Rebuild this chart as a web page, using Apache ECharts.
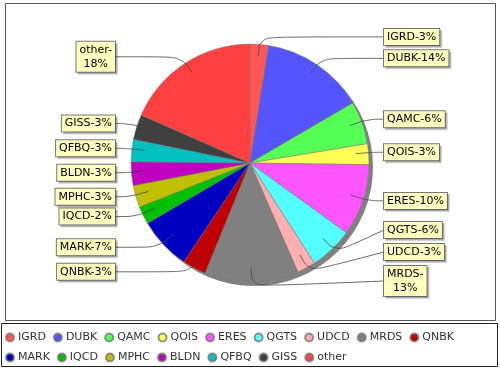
<!DOCTYPE html>
<html><head><meta charset="utf-8">
<script src="https://cdn.jsdelivr.net/npm/echarts@6/dist/echarts.min.js"></script>
<style>html,body{margin:0;padding:0;background:#fff}#c{width:500px;height:370px}</style>
</head><body><div id="c"></div>
<script>
const categories = ['IGRD','DUBK','QAMC','QOIS','ERES','QGTS','UDCD','MRDS','QNBK','MARK','IQCD','MPHC','BLDN','QFBQ','GISS','other'];
const shares = [2.5,14.0,5.8,2.8,9.7,5.9,2.5,12.7,3.2,7.1,2.4,3.0,3.2,3.0,3.4,18.3];
const colors = ['#FF5555','#5555FF','#55FF55','#FFFF55','#FF55FF','#55FFFF','#FFAFAF','#808080','#C00000','#0000C0','#00C000','#C0C000','#C000C0','#00C0C0','#404040','#FF4040'];
const wrappedLabels = ['other','MRDS'];

const FONT = 'DejaVu Sans';
const CX = 250, CY = 163, R = 119;          // pie geometry
const LCY = 161.5, LR_IN = 106, LLEN = 19;  // label-link geometry
const LEFT_COL = 115, RIGHT_COL = 384;
const LINE_H = 14, PAD_V = 1, MIN_GAP = 6, TOP_BOUND = 26, BOTTOM_BOUND = 296;

// JFreeChart-like label distribution: natural y from slice mid-angle, then resolve overlaps per side
const total = shares.reduce((a, b) => a + b, 0);
const labelInfo = [];
let cum = 0;
shares.forEach((v, i) => {
  const mid = (cum + v / 2) / total * 2 * Math.PI;
  cum += v;
  const h = (wrappedLabels.includes(categories[i]) ? 2 : 1) * LINE_H + 2 * PAD_V;
  labelInfo.push({ i, right: Math.sin(mid) >= 0, y: LCY - (LR_IN + LLEN) * Math.cos(mid), h });
});
function distribute(list) {
  list.sort((a, b) => a.y - b.y);
  for (let k = 1; k < list.length; k++) {
    const p = list[k - 1], c = list[k];
    if (c.y - c.h / 2 < p.y + p.h / 2) c.y = Math.min(BOTTOM_BOUND - c.h / 2, p.y + p.h / 2 + MIN_GAP + c.h / 2);
  }
  for (let k = list.length - 2; k >= 0; k--) {
    const n = list[k + 1], c = list[k];
    if (c.y + c.h / 2 > n.y - n.h / 2) c.y = Math.max(TOP_BOUND + c.h / 2, n.y - n.h / 2 - MIN_GAP - c.h / 2);
  }
}
distribute(labelInfo.filter(d => d.right));
distribute(labelInfo.filter(d => !d.right));
const labelPos = [];
labelInfo.forEach(d => { labelPos[d.i] = d; });

const pieData = categories.map((n, i) => ({ name: n, value: shares[i], itemStyle: { color: colors[i] } }));
const labelData = categories.map((n, i) => ({ name: n, value: shares[i] }));

const chart = echarts.init(document.getElementById('c'), null, { renderer: 'canvas' });
chart.setOption({
  animation: false,
  backgroundColor: '#ffffff',
  color: colors,
  graphic: [
    { type: 'rect', shape: { x: 5.5, y: 3.5, width: 490, height: 317 }, style: { fill: 'none', stroke: '#555', lineWidth: 1 }, silent: true, z: 0 },
    { type: 'rect', shape: { x: 1.5, y: 323.5, width: 496, height: 43 }, style: { fill: 'none', stroke: '#222', lineWidth: 1 }, silent: true, z: 0 }
  ],
  legend: {
    data: categories,
    left: 5, right: 5, top: 331,
    padding: 0,
    icon: 'circle',
    itemWidth: 8, itemHeight: 8, itemGap: 7,
    textStyle: { fontFamily: FONT, fontSize: 11, lineHeight: 13, color: '#333', padding: [0, 0, 0, -1] }
  },
  series: [
    {
      type: 'pie', name: 'shadow', silent: true, z: 1,
      center: [CX + 4, CY + 4], radius: R,
      label: { show: false }, labelLine: { show: false },
      itemStyle: { color: '#808080', borderWidth: 0 },
      data: [{ name: '_shadow', value: 1 }]
    },
    {
      type: 'pie', name: 'share', silent: true, z: 2,
      center: [CX, CY], radius: R,
      startAngle: 90, clockwise: true,
      label: { show: false }, labelLine: { show: false },
      itemStyle: { borderColor: 'rgba(120,120,120,0.8)', borderWidth: 0.6 },
      data: pieData
    },
    {
      type: 'pie', name: 'labels', silent: true, z: 3,
      center: [CX, LCY], radius: LR_IN,
      startAngle: 90, clockwise: true,
      avoidLabelOverlap: false,
      itemStyle: { color: 'rgba(0,0,0,0)', borderWidth: 0 },
      label: {
        show: true, position: 'outside', alignTo: 'none',
        distanceToLabelLine: 0,
        fontFamily: FONT, fontSize: 11, color: '#000', lineHeight: LINE_H,
        backgroundColor: '#FFFFC0', borderColor: '#777', borderWidth: 1,
        padding: [PAD_V, 3],
        shadowColor: 'rgba(0,0,0,0.18)', shadowOffsetX: 2, shadowOffsetY: 2, shadowBlur: 0,
        formatter: p => {
          const pct = Math.round(p.percent) + '%';
          return wrappedLabels.includes(p.name) ? '{c|' + p.name + '-}\n{c|' + pct + '}' : p.name + '-' + pct;
        },
        rich: { c: { align: 'center', fontFamily: FONT, fontSize: 11, lineHeight: LINE_H, color: '#000' } }
      },
      labelLine: { show: true, length: LLEN, length2: 8, smooth: 0.4, lineStyle: { color: '#444', width: 0.8 } },
      labelLayout: params => {
        const pts = params.labelLinePoints;
        const info = labelPos[params.dataIndex];
        if (!pts || pts.length < 3 || !info) return {};
        const col = info.right ? RIGHT_COL : LEFT_COL;
        return {
          x: col, y: info.y,
          align: info.right ? 'left' : 'right',
          verticalAlign: 'middle',
          labelLinePoints: [pts[0], pts[1], [col, info.y]]
        };
      },
      data: labelData
    }
  ]
});
</script></body></html>
